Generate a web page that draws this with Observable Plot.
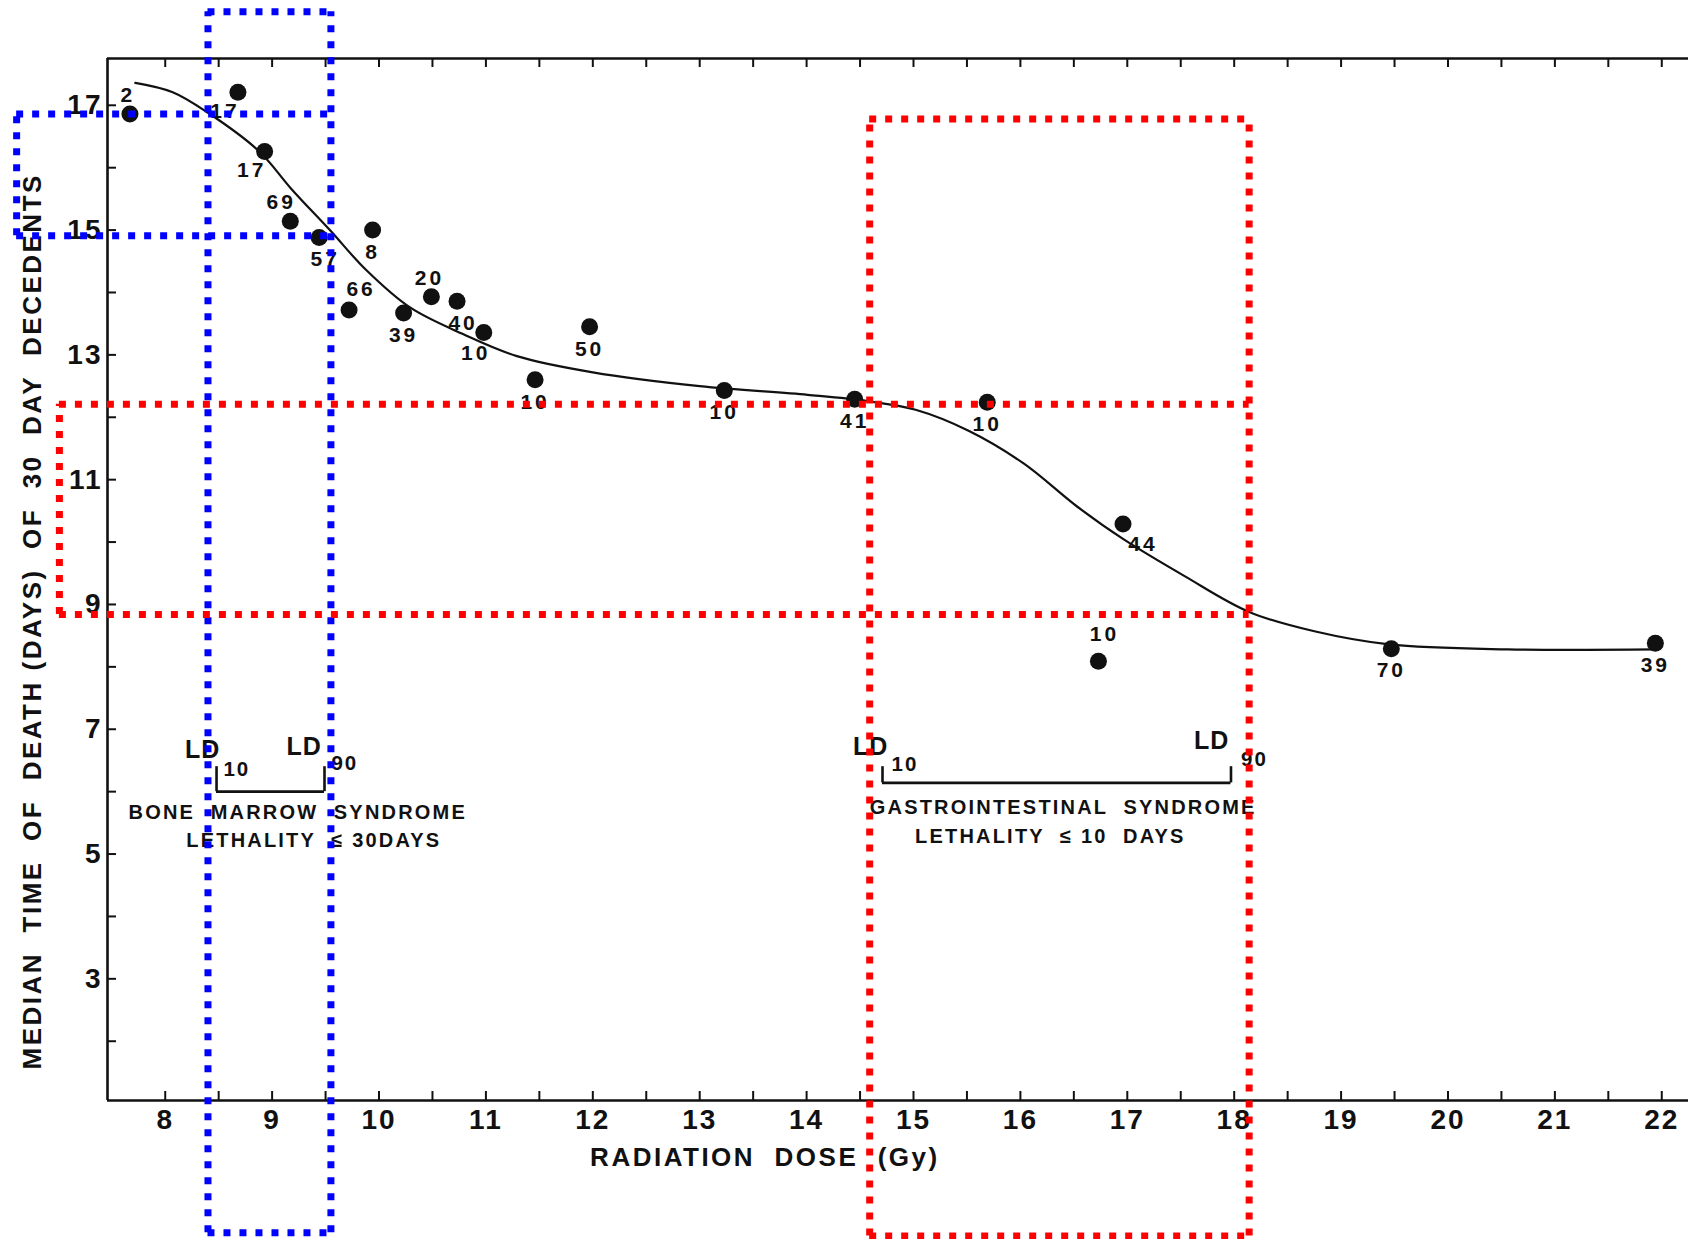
<!DOCTYPE html>
<html><head><meta charset="utf-8">
<script src="https://cdn.jsdelivr.net/npm/d3@7"></script>
<script src="https://cdn.jsdelivr.net/npm/@observablehq/plot@0.6"></script>
<style>
html,body{margin:0;padding:0;background:#fff;}
#chart svg{display:block;}
#chart svg text{white-space:pre;}
</style>
</head><body><div id="chart"></div>
<script>
// ---- data ----
const doseValues = [7.67, 8.68, 8.93, 9.17, 9.44, 9.94, 9.72, 10.23, 10.49, 10.73, 10.98, 11.46, 11.97, 13.23, 14.45, 15.69, 16.96, 16.73, 19.47, 21.94];
const timeValues = [16.86, 17.21, 16.26, 15.14, 14.88, 15.0, 13.72, 13.67, 13.93, 13.86, 13.36, 12.60, 13.45, 12.43, 12.29, 12.24, 10.29, 8.09, 8.29, 8.38];
const animalCounts = ["2","17","17","69","57","8","66","39","20","40","10","10","50","10","41","10","44","10","70","39"];
const labelPlacement = ["above","belowLeft","belowLeft","aboveLeft","belowSlightRight","below","aboveRight","below","above","belowSlightRight","belowSlightLeft","below","below","below","below","below","belowRight","aboveFar","below","below"];

const curveDose = [7.72, 8.07, 8.40, 8.88, 9.18, 9.54, 9.88, 10.29, 10.79, 11.29, 12.00, 13.00, 14.01, 14.57, 15.02, 15.52, 16.03, 16.53, 16.96, 17.54, 18.14, 18.75, 19.45, 20.56, 21.94];
const curveTime = [17.36, 17.21, 16.88, 16.26, 15.66, 15.00, 14.36, 13.76, 13.33, 12.98, 12.72, 12.50, 12.36, 12.26, 12.12, 11.78, 11.26, 10.57, 10.05, 9.45, 8.88, 8.57, 8.36, 8.28, 8.28];

const xTickValues = [8,9,10,11,12,13,14,15,16,17,18,19,20,21,22];
const yTickValues = [3,5,7,9,11,13,15,17];
const xMinorTicks = [8,8.5,9,9.5,10,10.5,11,11.5,12,12.5,13,13.5,14,14.5,15,15.5,16,16.5,17,17.5,18,18.5,19,19.5,20,20.5,21,21.5,22];
const yMinorTicks = [2,3,4,5,6,7,8,9,10,11,12,13,14,15,16,17];

const xTitle = "RADIATION  DOSE  (Gy)";
const yTitle = "MEDIAN  TIME  OF  DEATH (DAYS)  OF  30  DAY  DECEDENTS";

// LD annotations
const ldText = ["LD","LD","LD","LD"];
const ldDose = [8.35, 9.30, 14.60, 17.79];
const ldTime = [6.66, 6.72, 6.71, 6.81];
const ldSubText = ["10","90","10","90"];
const ldSubDose = [8.67, 9.68, 14.92, 18.19];
const ldSubTime = [6.36, 6.45, 6.43, 6.52];
const bracketStart = [8.48, 14.71];
const bracketEnd = [9.49, 17.97];
const bracketBase = [6.00, 6.14];
const bracketTop = [6.40, 6.40];

const syndromeText = ["BONE  MARROW  SYNDROME", "LETHALITY  \u2264 30DAYS", "GASTROINTESTINAL  SYNDROME", "LETHALITY  \u2264 10  DAYS"];
const syndromeDose = [9.24, 9.39, 16.40, 16.28];
const syndromeTime = [5.66, 5.21, 5.74, 5.28];

// dotted highlight boxes
const blueDose = [8.40, 9.55];
const blueTime = [14.91, 16.86];
const blueOuter = {left: 6.61, top: 18.5, bottom: -1.07};
const redDose = [14.59, 18.14];
const redTime = [8.84, 12.21];
const redOuter = {left: 7.01, top: 16.78, bottom: -1.12};

// ---- layout ----
const W = 1688, H = 1239;
const mTop = 58, mBottom = 139, mLeft = 107, mRight = 0;
const xDomain = [7.46, 22.25];
const yDomain = [1.05, 17.75];
const pxPerY = (H - mTop - mBottom) / (yDomain[1] - yDomain[0]);
const pxPerX = (W - mLeft - mRight) / (xDomain[1] - xDomain[0]);
const tickLenY = 9 / pxPerY;
const tickLenX = 9 / pxPerX;

// font sizes (distinct so the groups can be styled afterwards)
const FS = {tick: 28, title: 26, ld: 25, point: 21, ldsub: 20.5, syndrome: 20};

const points = doseValues.map((d, i) => ({dose: d, time: timeValues[i], n: animalCounts[i], place: labelPlacement[i]}));
const placeOffsets = {
  above: [-2, -19], below: [0, 22], belowLeft: [-13, 19], aboveLeft: [-9, -19],
  belowSlightRight: [6, 22], belowSlightLeft: [-8, 21], aboveRight: [12, -21],
  belowRight: [20, 20], aboveFar: [6, -27]
};
const labelMarks = Object.entries(placeOffsets).map(([k, [dx, dy]]) =>
  Plot.text(points.filter(p => p.place === k), {x: "dose", y: "time", text: "n", dx, dy,
    fontSize: FS.point, fontWeight: "bold", fill: "#111"}));

const dotted = (color) => ({stroke: color, strokeWidth: 7, strokeDasharray: "7 9", strokeLinecap: "butt"});

const chart = Plot.plot({
  width: W, height: H,
  marginTop: mTop, marginBottom: mBottom, marginLeft: mLeft, marginRight: mRight,
  x: {domain: xDomain},
  y: {domain: yDomain},
  style: {fontFamily: "'Liberation Sans', Arial, sans-serif", background: "#fff", color: "#111"},
  marks: [
    // frame
    Plot.ruleX([xDomain[0]], {y1: yDomain[0], y2: yDomain[1], stroke: "#111", strokeWidth: 2.6}),
    Plot.ruleY([yDomain[0]], {x1: xDomain[0], x2: xDomain[1], stroke: "#111", strokeWidth: 2.6}),
    Plot.ruleY([yDomain[1]], {x1: xDomain[0], x2: xDomain[1], stroke: "#111", strokeWidth: 2.6}),
    // inward ticks
    Plot.ruleX(xMinorTicks, {y1: yDomain[0], y2: yDomain[0] + tickLenY, stroke: "#111", strokeWidth: 2}),
    Plot.ruleX(xMinorTicks, {y1: yDomain[1] - tickLenY, y2: yDomain[1], stroke: "#111", strokeWidth: 2}),
    Plot.ruleY(yMinorTicks, {x1: xDomain[0], x2: xDomain[0] + tickLenX, stroke: "#111", strokeWidth: 2}),
    // tick labels
    Plot.axisX({ticks: xTickValues, tickSize: 0, tickPadding: 9, fontSize: FS.tick, fontWeight: "bold", label: null, tickFormat: d => String(d)}),
    Plot.axisY({ticks: yTickValues, tickSize: 0, tickPadding: 5, fontSize: FS.tick, fontWeight: "bold", label: null, tickFormat: d => String(d)}),
    // axis titles
    Plot.text([xTitle], {x: 13.61, y: 0.14, text: d => d, fontSize: FS.title, fontWeight: "bold"}),
    Plot.text([yTitle], {x: 6.76, y: 8.73, text: d => d, rotate: -90, fontSize: FS.title, fontWeight: "bold"}),
    // fitted curve
    Plot.line(curveDose.map((d, i) => [d, curveTime[i]]), {x: d => d[0], y: d => d[1], curve: "catmull-rom", stroke: "#111", strokeWidth: 2.2}),
    // observations
    Plot.dot(points, {x: "dose", y: "time", r: 8.5, fill: "#111", stroke: "none"}),
    ...labelMarks,
    // LD brackets
    Plot.ruleY(bracketBase, {x1: (d, i) => bracketStart[i], x2: (d, i) => bracketEnd[i], stroke: "#111", strokeWidth: 2.6}),
    Plot.ruleX(bracketStart, {y1: (d, i) => bracketBase[i], y2: (d, i) => bracketTop[i], stroke: "#111", strokeWidth: 2.6}),
    Plot.ruleX(bracketEnd, {y1: (d, i) => bracketBase[i], y2: (d, i) => bracketTop[i], stroke: "#111", strokeWidth: 2.6}),
    Plot.text(ldText, {x: (d, i) => ldDose[i], y: (d, i) => ldTime[i], text: d => d, fontSize: FS.ld, fontWeight: "bold"}),
    Plot.text(ldSubText, {x: (d, i) => ldSubDose[i], y: (d, i) => ldSubTime[i], text: d => d, fontSize: FS.ldsub, fontWeight: "bold"}),
    Plot.text(syndromeText, {x: (d, i) => syndromeDose[i], y: (d, i) => syndromeTime[i], text: d => d, fontSize: FS.syndrome, fontWeight: "bold"}),
    // blue dotted box
    Plot.ruleX(blueDose, {y1: blueOuter.bottom, y2: blueOuter.top, ...dotted("#0000ff")}),
    Plot.ruleY([blueOuter.top, blueOuter.bottom], {x1: blueDose[0], x2: blueDose[1], ...dotted("#0000ff")}),
    Plot.ruleY(blueTime, {x1: blueOuter.left, x2: blueDose[1], ...dotted("#0000ff")}),
    Plot.ruleX([blueOuter.left], {y1: blueTime[0], y2: blueTime[1], ...dotted("#0000ff")}),
    // red dotted box
    Plot.ruleX(redDose, {y1: redOuter.bottom, y2: redOuter.top, ...dotted("#ff0000")}),
    Plot.ruleY([redOuter.top, redOuter.bottom], {x1: redDose[0], x2: redDose[1], ...dotted("#ff0000")}),
    Plot.ruleY(redTime, {x1: redOuter.left, x2: redDose[1], ...dotted("#ff0000")}),
    Plot.ruleX([redOuter.left], {y1: redTime[0], y2: redTime[1], ...dotted("#ff0000")})
  ]
});
document.getElementById("chart").appendChild(chart);

// letter spacing tweaks, selected by each group's font size
const svg = d3.select(chart);
const spacing = [[FS.title, "2.5px"], [FS.syndrome, "2.2px"], [FS.point, "3px"], [FS.ld, "1px"], [FS.ldsub, "2px"], [FS.tick, "2px"]];
svg.selectAll("text").each(function () {
  let el = this, fs = null;
  while (el && el !== chart) {
    const a = el.getAttribute && el.getAttribute("font-size");
    if (a != null) { fs = +a; break; }
    el = el.parentNode;
  }
  const hit = spacing.find(([s]) => s === fs);
  if (hit) d3.select(this).style("letter-spacing", hit[1]);
});
</script>
</body></html>
